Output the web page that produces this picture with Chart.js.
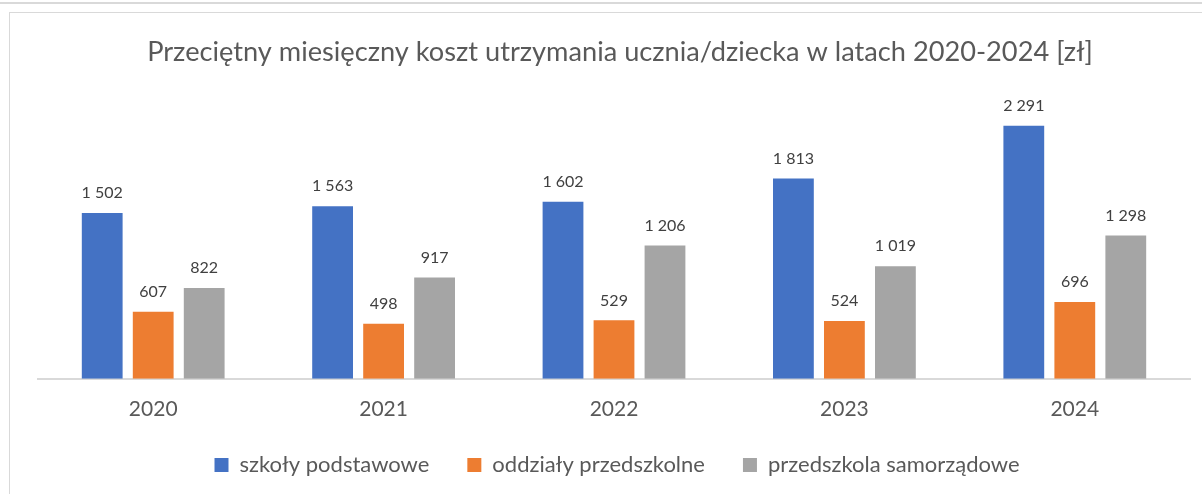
<!DOCTYPE html>
<html>
<head>
<meta charset="utf-8">
<script src="https://cdn.jsdelivr.net/npm/chart.js@4"></script>
<style>
  html, body { margin: 0; padding: 0; background: #fff; overflow: hidden; }
  body { width: 1202px; height: 494px; position: relative; overflow: hidden; }
  .topline { position: absolute; left: 0; top: 2px; width: 1202px; height: 2px; background: #d9d9d9; }
  .box {
    position: absolute; left: 9px; top: 12px; width: 1230px; height: 520px;
    border-left: 1px solid #d9d9d9; border-top: 1px solid #d9d9d9;
  }
  .box canvas { display: block; }
</style>
</head>
<body>
<div class="topline"></div>
<div class="box">
  <canvas id="costChart" width="1220" height="505"></canvas>
</div>
<script>
// Data
const years = ['2020', '2021', '2022', '2023', '2024'];
const seriesNames = ['szkoły podstawowe', 'oddziały przedszkolne', 'przedszkola samorządowe'];
const primarySchools = [1502, 1563, 1602, 1813, 2291];
const preschoolClasses = [607, 498, 529, 524, 696];
const localPreschools = [822, 917, 1206, 1019, 1298];
const seriesColors = ['#4472C4', '#ED7D31', '#A5A5A5'];

const textColor = '#595959';
const fontFamily = 'Lato, "Open Sans", sans-serif';

// "1502" -> "1 502"
function formatValue(v) {
  return String(v).replace(/\B(?=(\d{3})+(?!\d))/g, ' ');
}

// Draw the value above every bar
const valueLabels = {
  id: 'valueLabels',
  afterDatasetsDraw(chart) {
    const ctx = chart.ctx;
    ctx.save();
    ctx.font = '16px ' + fontFamily;
    ctx.fillStyle = '#404040';
    ctx.textAlign = 'center';
    ctx.textBaseline = 'middle';
    chart.data.datasets.forEach((ds, i) => {
      chart.getDatasetMeta(i).data.forEach((bar, j) => {
        ctx.fillText(formatValue(ds.data[j]), bar.x, bar.y - 20);
      });
    });
    ctx.restore();
  }
};

// Legend sits closer to the year labels than chart.js would put it,
// and title + legend are centred on the whole box, not on the plot
const blockShift = {
  id: 'blockShift',
  afterLayout(chart) {
    chart.legend.top -= 24;
    chart.legend.bottom -= 24;
    chart.legend.left += 3;
    chart.legend.right += 3;
    chart.titleBlock.left += 6;
    chart.titleBlock.right += 6;
  }
};

const allSeries = [primarySchools, preschoolClasses, localPreschools];

const ctx = document.getElementById('costChart').getContext('2d');
const costChart = new Chart(ctx, {
  type: 'bar',
  data: {
    labels: years,
    datasets: allSeries.map((values, i) => ({
      label: seriesNames[i],
      data: values,
      backgroundColor: seriesColors[i],
      categoryPercentage: 0.664,
      barPercentage: 0.8
    }))
  },
  options: {
    responsive: false,
    animation: false,
    layout: { padding: { left: 28, right: 40, top: 0, bottom: 8 } },
    scales: {
      x: {
        grid: { display: false, drawTicks: false },
        border: { color: '#d9d9d9', width: 2 },
        ticks: { color: textColor, font: { family: fontFamily, size: 21 }, padding: 18 }
      },
      y: {
        display: false,
        min: 0,
        max: 2500
      }
    },
    plugins: {
      title: {
        display: true,
        text: 'Przeciętny miesięczny koszt utrzymania ucznia/dziecka w latach 2020-2024 [zł]',
        color: textColor,
        font: { family: fontFamily, size: 27.2, weight: 'normal' },
        padding: { top: 23, bottom: 34 }
      },
      legend: {
        position: 'bottom',
        labels: {
          color: textColor,
          font: { family: fontFamily, size: 22 },
          boxWidth: 14,
          boxHeight: 14,
          padding: 38
        }
      },
      tooltip: { enabled: false }
    }
  },
  plugins: [valueLabels, blockShift]
});
</script>
</body>
</html>
